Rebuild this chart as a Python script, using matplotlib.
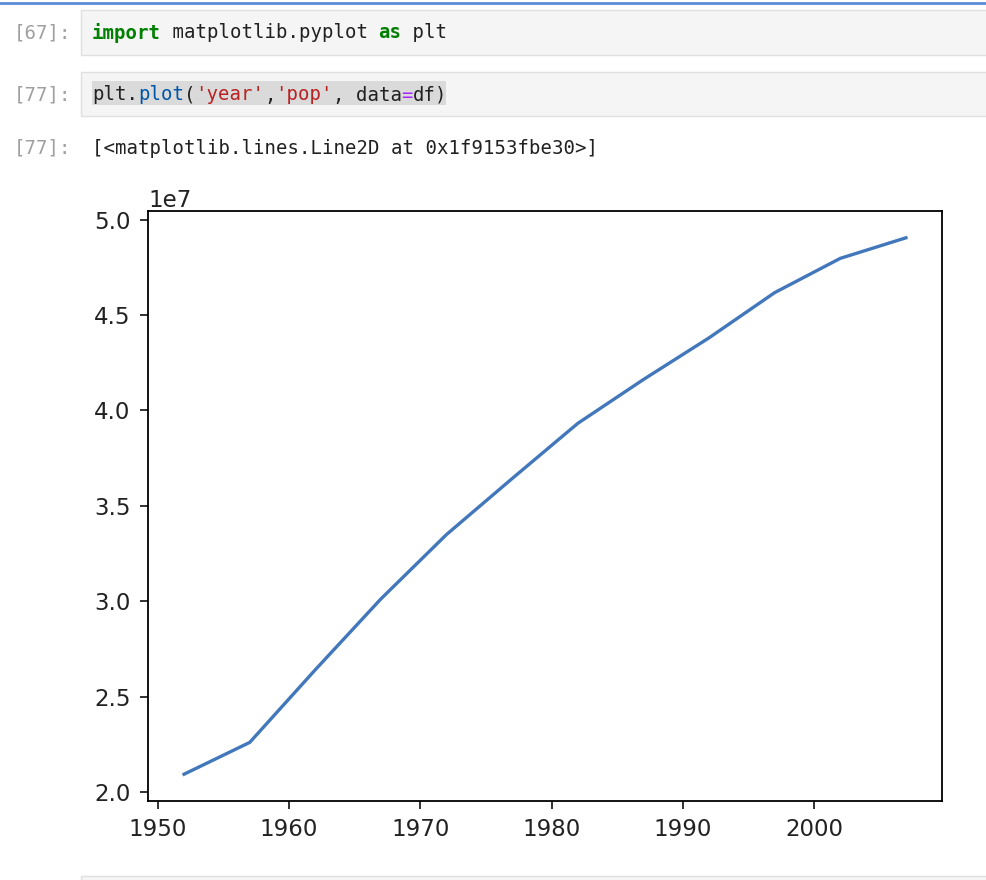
import numpy as np
import matplotlib as mplt
mplt.use("Agg")
import matplotlib.pyplot as plt
import matplotlib.patches as mpatches

# gapminder, Korea Rep.
years = [1952, 1957, 1962, 1967, 1972, 1977, 1982, 1987, 1992, 1997, 2002, 2007]
pop = [20947571, 22611552, 26420307, 30131000, 33505000, 36436000,
       39326000, 41622000, 43805450, 46173816, 47969150, 49044790]

prompt_in_1 = "[67]:"
prompt_in_2 = "[77]:"
prompt_out = "[77]:"
code_1 = [("import", "#008000", "bold"), (" matplotlib.pyplot ", "#212121", "normal"),
          ("as", "#008000", "bold"), (" plt", "#212121", "normal")]
code_2 = [("plt.", "#212121", "normal"), ("plot", "#0055aa", "normal"), ("(", "#212121", "normal"),
          ("'year'", "#ba2121", "normal"), (",", "#212121", "normal"), ("'pop'", "#ba2121", "normal"),
          (", data", "#212121", "normal"), ("=", "#aa22ff", "normal"), ("df)", "#212121", "normal")]
output_text = "[<matplotlib.lines.Line2D at 0x1f9153fbe30>]"

W, H = 986, 880
fig = plt.figure(figsize=(W / 100, H / 100), dpi=100)

# notebook background, pixel coordinates
bg = fig.add_axes([0, 0, 1, 1])
bg.set_xlim(0, W)
bg.set_ylim(H, 0)
bg.axis("off")

mono = "DejaVu Sans Mono"
fs = 13.7
char_w = 0.602 * fs * 100 / 72

bg.plot([0, W], [3, 3], color="#5b8bd6", lw=2)

def add_cell(y0, y1):
    bg.add_patch(mpatches.Rectangle((81, y0), W, y1 - y0, facecolor="#f5f5f5",
                                    edgecolor="#e0e0e0", lw=1))

def add_code(x, y, parts):
    n = 0
    for text, color, weight in parts:
        bg.text(x + n * char_w, y, text, family=mono, fontsize=fs, color=color,
                fontweight=weight, va="center", ha="left")
        n += len(text)

add_cell(10, 55)
add_cell(72, 116)
add_cell(876, 920)

bg.add_patch(mpatches.Rectangle((92, 81), 354, 24, facecolor="#dadada", edgecolor="none"))

bg.text(71, 33, prompt_in_1, family=mono, fontsize=fs, color="#a0a0a0", va="center", ha="right")
bg.text(71, 95, prompt_in_2, family=mono, fontsize=fs, color="#a0a0a0", va="center", ha="right")
bg.text(71, 148, prompt_out, family=mono, fontsize=fs, color="#a0a0a0", va="center", ha="right")

add_code(92, 33, code_1)
add_code(92, 95, code_2)
bg.text(92, 148, output_text, family=mono, fontsize=fs, color="#212121", va="center", ha="left")

# the plot itself
ax = fig.add_axes([148 / W, (H - 801) / H, 794 / W, 590 / H])
ax.plot(years, pop, color="#4278bb", lw=2.4)
ax.set_yticks([2.0e7, 2.5e7, 3.0e7, 3.5e7, 4.0e7, 4.5e7, 5.0e7])
for s in ax.spines.values():
    s.set_linewidth(1.3)
ax.tick_params(labelsize=16.5, length=5.5, width=1.3, colors="#222222")
ax.tick_params(axis="y", pad=7)
ax.tick_params(axis="x", pad=6.5)
ax.yaxis.get_offset_text().set_fontsize(16.5)

fig.savefig("out.png", dpi=100)
